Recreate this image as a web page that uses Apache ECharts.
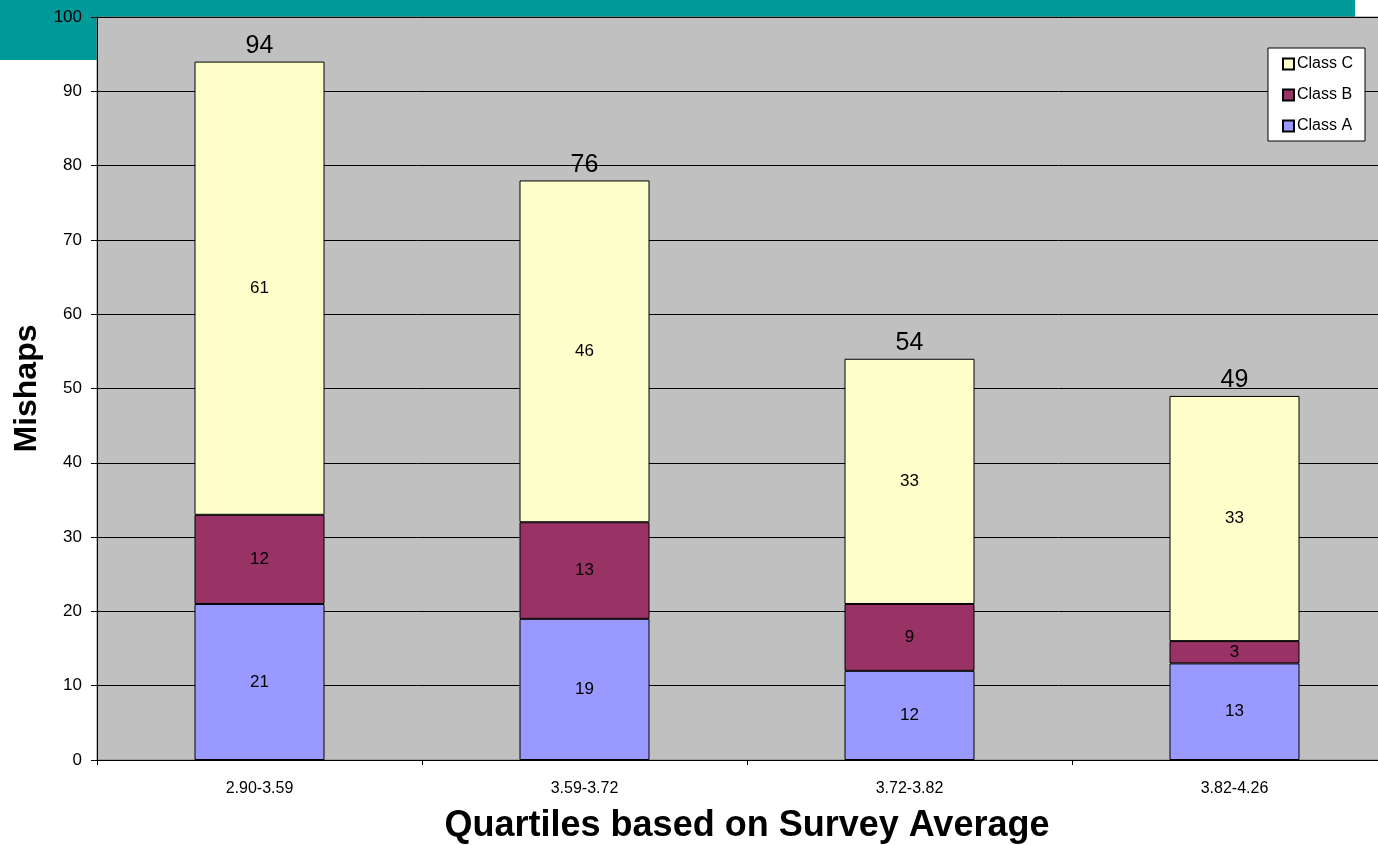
<!DOCTYPE html>
<html><head><meta charset="utf-8">
<script src="https://cdn.jsdelivr.net/npm/echarts@6/dist/echarts.min.js"></script>
<style>html,body{margin:0;padding:0;background:#fff;overflow:hidden}#c{width:1378px;height:845px}</style>
</head><body><div id="c"></div>
<script>
const categories = ['2.90-3.59', '3.59-3.72', '3.72-3.82', '3.82-4.26'];
const classA = [21, 19, 12, 13];
const classB = [12, 13, 9, 3];
const classC = [61, 46, 33, 33];
const totals = [94, 76, 54, 49];
const yTicks = [0, 10, 20, 30, 40, 50, 60, 70, 80, 90, 100];

const chart = echarts.init(document.getElementById('c'));
const font = 'Arial, "Liberation Sans", sans-serif';
const segLabel = {show: true, position: 'inside', color: '#000', fontSize: 17, fontFamily: font};
function series(name, data, color, extra) {
  return Object.assign({
    name, type: 'bar', stack: 'total', data, barWidth: '40%',
    itemStyle: {color, borderColor: '#000', borderWidth: 1},
    label: segLabel
  }, extra || {});
}
chart.setOption({
  animation: false,
  graphic: [
    {type: 'rect', shape: {x: 0, y: 0, width: 1355, height: 17}, style: {fill: '#009999'}, z: -10, silent: true},
    {type: 'rect', shape: {x: 0, y: 0, width: 97, height: 60}, style: {fill: '#009999'}, z: -10, silent: true}
  ],
  grid: {left: 97, right: -19, top: 17, bottom: 85, outerBoundsMode: 'none', containLabel: false,
    show: true, backgroundColor: '#C0C0C0', borderColor: '#808080', borderWidth: 1},
  legend: {
    orient: 'vertical', right: 13, top: 48, data: ['Class C', 'Class B', 'Class A'],
    backgroundColor: '#fff', borderColor: '#000', borderWidth: 1, padding: [8, 12, 7, 14],
    itemWidth: 11, itemHeight: 11, itemGap: 15, icon: 'rect',
    textStyle: {fontSize: 16, fontFamily: font, color: '#000', padding: [0, 0, 0, -2]}
  },
  xAxis: {
    type: 'category', data: categories,
    axisLine: {lineStyle: {color: '#000'}},
    axisTick: {show: true, alignWithLabel: false, length: 5, lineStyle: {color: '#000'}},
    axisLabel: {fontSize: 16, fontFamily: font, color: '#000', margin: 21},
    name: 'Quartiles based on Survey Average', nameLocation: 'middle', nameGap: 48,
    nameTextStyle: {fontSize: 36, fontWeight: 'bold', fontFamily: font, color: '#000'}
  },
  yAxis: {
    type: 'value', min: 0, max: 100, interval: 10,
    axisLine: {show: true, lineStyle: {color: '#000'}},
    axisTick: {show: true, length: 6, lineStyle: {color: '#000'}},
    axisLabel: {fontSize: 17, fontFamily: font, color: '#000', margin: 15,
      formatter: v => yTicks.includes(v) ? String(v) : ''},
    splitLine: {lineStyle: {color: '#000', width: 1}},
    name: 'Mishaps', nameLocation: 'middle', nameGap: 48,
    nameTextStyle: {fontSize: 32, fontWeight: 'bold', fontFamily: font, color: '#000'}
  },
  series: [
    series('Class A', classA, '#9999FF'),
    series('Class B', classB, '#993366'),
    series('Class C', classC, '#FFFFCC'),
    {
      name: 'Total', type: 'bar', stack: 'total', barWidth: '40%',
      data: totals.map(() => 0), itemStyle: {color: 'transparent', borderWidth: 0},
      label: {show: true, position: 'top', distance: 3, fontSize: 25, fontFamily: font, color: '#000',
        formatter: p => String(totals[p.dataIndex])}
    }
  ]
});
</script></body></html>
